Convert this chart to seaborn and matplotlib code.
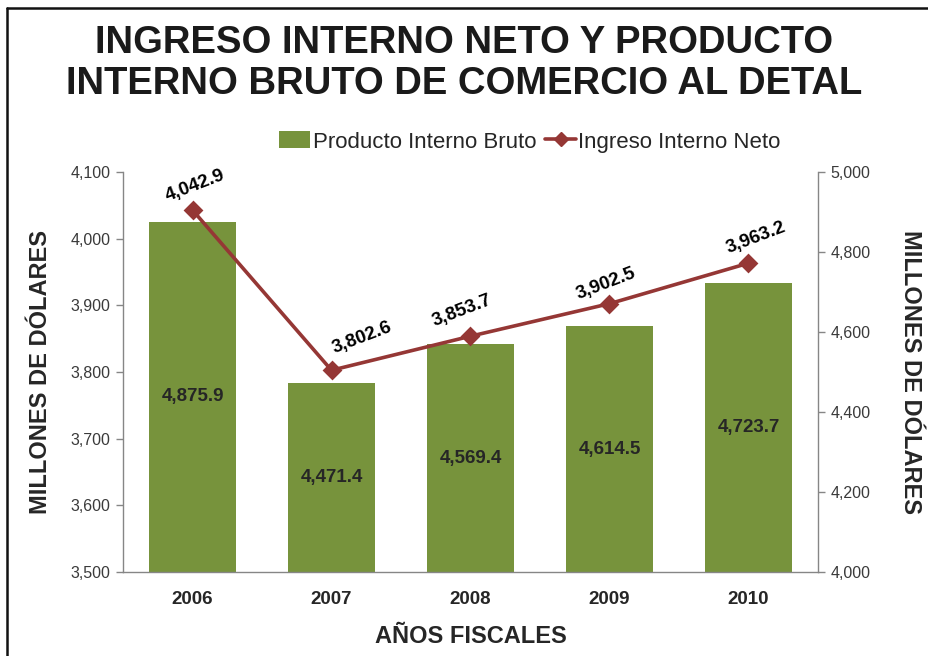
import numpy as np
import pandas as pd
import matplotlib
matplotlib.use("Agg")
import matplotlib.pyplot as plt
import seaborn as sns
from matplotlib.lines import Line2D
from matplotlib.patches import Patch

years = ["2006", "2007", "2008", "2009", "2010"]
pib = [4875.9, 4471.4, 4569.4, 4614.5, 4723.7]
ini = [4042.9, 3802.6, 3853.7, 3902.5, 3963.2]
left_ticks = [3500, 3600, 3700, 3800, 3900, 4000, 4100]
right_ticks = [4000, 4200, 4400, 4600, 4800, 5000]

title_lines = ["INGRESO INTERNO NETO Y PRODUCTO", "INTERNO BRUTO DE COMERCIO AL DETAL"]
ylabel = "MILLONES DE DÓLARES"
xlabel = "AÑOS FISCALES"
s_pib = "Producto Interno Bruto"
s_ini = "Ingreso Interno Neto"

# label offsets (pixels) for line value labels
label_offsets = [(3, 24), (31, 32), (-8, 25), (-3, 20), (8, 25)]

GREEN = "#77933C"
RED = "#953735"
GRAY = "#868686"
TXT = "#262626"

df = pd.DataFrame({"year": years, "pib": pib, "ini": ini})

sns.set_theme(style="white")
plt.rcParams["font.family"] = ["Liberation Sans", "DejaVu Sans"]

fig = plt.figure(figsize=(9.29, 6.56), dpi=100)
ax = fig.add_axes([123/929, 1-572/656, (818-123)/929, 400/656])
ax2 = ax.twinx()

# bars on the right axis
sns.barplot(data=df, x="year", y="pib", ax=ax2, color=GREEN, width=0.62,
            saturation=1, errorbar=None, edgecolor="none")
ax2.set_ylim(4000, 5000)
ax2.set_yticks(right_ticks)
ax2.set_yticklabels([f"{v:,}" for v in right_ticks], fontsize=11.5, color="#3a3a3a")

# line on the left axis
sns.pointplot(data=df, x="year", y="ini", ax=ax, color=RED, markers="D",
              errorbar=None, linewidth=2.6, markersize=8)
ax.set_ylim(3500, 4100)
ax.set_yticks(left_ticks)
ax.set_yticklabels([f"{v:,}" for v in left_ticks], fontsize=11.5, color="#3a3a3a")
ax.set_xlim(-0.5, 4.5)

ax.set_zorder(ax2.get_zorder() + 1)
ax.patch.set_visible(False)

for a in (ax, ax2):
    for s in a.spines.values():
        s.set_visible(False)
ax.spines["left"].set_visible(True)
ax.spines["bottom"].set_visible(True)
ax2.spines["right"].set_visible(True)
for s in (ax.spines["left"], ax.spines["bottom"], ax2.spines["right"]):
    s.set_color(GRAY)
    s.set_linewidth(1.0)

ax.tick_params(axis="y", which="major", direction="out", length=5, color=GRAY, width=1, left=True, pad=4)
ax2.tick_params(axis="y", which="major", direction="out", length=5, color=GRAY, width=1, right=True, pad=4)
ax.tick_params(axis="x", length=0, pad=14)
ax2.tick_params(axis="x", length=0)
ax.set_xticks(range(len(years)))
ax.set_xticklabels(years, fontsize=13.5, fontweight="bold", color=TXT)

ax.set_xlabel(xlabel, fontsize=17, fontweight="bold", color=TXT, labelpad=12)
ax.set_ylabel(ylabel, fontsize=17, fontweight="bold", color=TXT, labelpad=13)
ax2.set_ylabel(ylabel, fontsize=17, fontweight="bold", color=TXT, rotation=-90, labelpad=37)
ax.grid(False)
ax2.grid(False)

# labels on bars
for i, v in enumerate(pib):
    ax2.text(i, (4000 + v) / 2, f"{v:,.1f}", ha="center", va="center",
             fontsize=13.5, fontweight="bold", color=TXT)

# labels on line
for i, v in enumerate(ini):
    ax.annotate(f"{v:,.1f}", xy=(i, v), xytext=label_offsets[i], textcoords="offset pixels",
                ha="center", va="center", rotation=21, fontsize=13.5,
                fontweight="bold", color="black")

# title
fig.text(0.5, 1-43/656, title_lines[0], ha="center", va="center",
         fontsize=27.5, fontweight="bold", color="#1a1a1a")
fig.text(0.5, 1-84/656, title_lines[1], ha="center", va="center",
         fontsize=27.5, fontweight="bold", color="#1a1a1a")

# legend
handles = [Patch(facecolor=GREEN, edgecolor="none"),
           Line2D([0], [0], color=RED, lw=2.6, marker="D", markersize=7)]
fig.legend(handles, [s_pib, s_ini], loc="center", bbox_to_anchor=(530/929, 1-142/656),
           ncol=2, frameon=False, fontsize=16, handlelength=1.4, handleheight=0.8,
           handletextpad=0.1, columnspacing=0.4, labelcolor="#262626")

# frame around figure
fig.add_artist(Line2D([7/929, 7/929], [-0.05, 1-8/656], transform=fig.transFigure,
                      color="#111111", lw=1.8))
fig.add_artist(Line2D([7/929, 1.05], [1-8/656, 1-8/656], transform=fig.transFigure,
                      color="#111111", lw=1.8))

fig.savefig("out.png", dpi=100, facecolor="white")
